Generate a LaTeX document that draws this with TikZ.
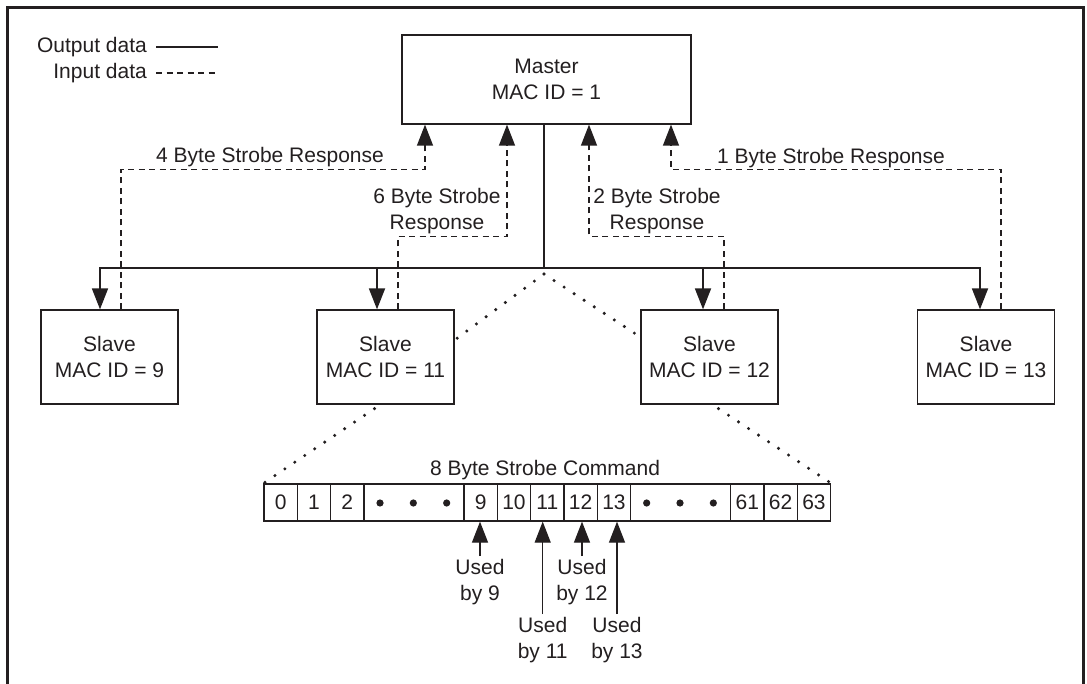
\documentclass[tikz,border=0pt]{standalone}
\usepackage{fontspec}
\setmainfont{Liberation Sans}
\usetikzlibrary{arrows.meta,calc}
\definecolor{ink}{RGB}{35,31,32}
\begin{document}
\begin{tikzpicture}[x=1pt,y=-1pt,
  font=\fontsize{21}{26}\selectfont,
  every node/.style={text=ink},
  box/.style={draw=ink,line width=1.3pt,minimum width=137pt,minimum height=94pt,align=center,inner sep=0pt},
  outp/.style={draw=ink,line width=1.8pt},
  thin/.style={draw=ink,line width=1.3pt},
  inp/.style={draw=ink,line width=1.3pt,dash pattern=on 6pt off 4.5pt},
  tipA/.style={-{Triangle[length=21pt,width=16pt]}},
  dotl/.style={draw=ink,line width=3.4pt,line cap=round,dash pattern=on 0pt off 12pt},
  cell/.style={draw=ink,line width=1.3pt,minimum height=37pt,inner sep=0pt,anchor=west},
  lbl/.style={align=center,inner sep=0pt}]
\useasboundingbox (0,0) rectangle (1087,684);
\fill[white] (0,0) rectangle (1087,684);
% frame
\draw[ink,line width=3pt] (7.5,690) -- (7.5,7.5) -- (1083,7.5) -- (1083,690);

% legend
\node[anchor=east,inner sep=0pt] (lo) at (147,47) {Output data};
\node[anchor=east,inner sep=0pt] (li) at (147,73) {Input data};
\draw[outp,line width=1.5pt] ([xshift=9pt]lo.east) -- ++(62,0);
\draw[inp] ([xshift=9pt]li.east) -- ++(62,0);

% master and slaves
\node[box,minimum width=289pt,minimum height=89pt] (m) at (546.5,79.5) {Master\\MAC ID = 1};
\node[box] (s9)  at (109.5,357) {Slave\\MAC ID = 9};
\node[box] (s11) at (385.5,357) {Slave\\MAC ID = 11};
\node[box] (s12) at (709.5,357) {Slave\\MAC ID = 12};
\node[box] (s13) at (986,357)   {Slave\\MAC ID = 13};

% output bus
\coordinate (j) at (544,268);
\draw[outp] (m.south -| j) -- (j);
\draw[outp,tipA] (j) -| ([xshift=-9.5pt]s9.north);
\draw[outp,tipA] (j) -| ([xshift=-6pt]s13.north);
\draw[outp,tipA] ([xshift=-8.5pt]s11.north |- j) -- ([xshift=-8.5pt]s11.north);
\draw[outp,tipA] ([xshift=-6.5pt]s12.north |- j) -- ([xshift=-6.5pt]s12.north);

% input responses
\draw[inp,tipA] ([xshift=11.5pt]s9.north) -- ++(0,-140) -| ([xshift=-121.5pt]m.south);
\draw[inp,tipA] ([xshift=12.5pt]s11.north) -- ++(0,-73) -| ([xshift=-39.5pt]m.south);
\draw[inp,tipA] ([xshift=14.5pt]s12.north) -- ++(0,-73) -| ([xshift=42.5pt]m.south);
\draw[inp,tipA] ([xshift=15pt]s13.north) -- ++(0,-140) -| ([xshift=124.5pt]m.south);

\node[lbl] (l4) at (270,157) {4 Byte Strobe Response};
\node[lbl] (l1) at (831,158) {1 Byte Strobe Response};
\node[lbl] (l6) at (437,211) {6 Byte Strobe\\Response};
\node[lbl] (l2) at (657,211) {2 Byte Strobe\\Response};

% strobe command strip
\node[lbl] (title) at (545,470) {8 Byte Strobe Command};
\node[cell,minimum width=33.333pt] (c0)  at (263.33,502.5) {0};
\node[cell,minimum width=33.333pt] (c1)  at (296.67,502.5) {1};
\node[cell,minimum width=33.333pt] (c2)  at (330.00,502.5) {2};
\node[cell,minimum width=100pt]    (c3)  at (363.33,502.5) {};
\node[cell,minimum width=33.333pt] (c6)  at (463.33,502.5) {9};
\node[cell,minimum width=33.333pt] (c7)  at (496.67,502.5) {10};
\node[cell,minimum width=33.333pt] (c8)  at (530.00,502.5) {11};
\node[cell,minimum width=33.333pt] (c9)  at (563.33,502.5) {12};
\node[cell,minimum width=33.333pt] (c10) at (596.67,502.5) {13};
\node[cell,minimum width=100pt]    (c11) at (630.00,502.5) {};
\node[cell,minimum width=33.333pt] (c14) at (730.00,502.5) {61};
\node[cell,minimum width=33.333pt] (c15) at (763.33,502.5) {62};
\node[cell,minimum width=33.333pt] (c16) at (796.67,502.5) {63};
\foreach \k in {0,1,2} {
  \fill[ink] ($(c3.west)+(16.67+\k*33.333,0.5)$) circle (3.6pt);
  \fill[ink] ($(c11.west)+(16.67+\k*33.333,0.5)$) circle (3.6pt);
}

% zoom dotted lines
\draw[dotl] ([yshift=-6pt]j) -- ([yshift=17pt]s11.east);
\draw[dotl] ([yshift=-6pt]j) -- ([yshift=20pt]s12.west);
\draw[dotl] ([xshift=-11pt,yshift=-4pt]s11.south) -- (c0.north west);
\draw[dotl] ([xshift=9pt,yshift=-4pt]s12.south) -- (c16.north east);

% used-by labels
\node[lbl,anchor=north,inner sep=3pt] (u9)  at (480,556)   {Used\\by 9};
\node[lbl,anchor=north,inner sep=3pt] (u11) at (542.7,614) {Used\\by 11};
\node[lbl,anchor=north,inner sep=3pt] (u12) at (582,556)   {Used\\by 12};
\node[lbl,anchor=north,inner sep=3pt] (u13) at (617,614)   {Used\\by 13};
\draw[thin,tipA] (u9.north)  -- (u9.north  |- c6.south);
\draw[thin,tipA] (u11.north) -- (u11.north |- c8.south);
\draw[thin,tipA] (u12.north) -- (u12.north |- c9.south);
\draw[thin,tipA] (u13.north) -- (u13.north |- c10.south);
\end{tikzpicture}
\end{document}
